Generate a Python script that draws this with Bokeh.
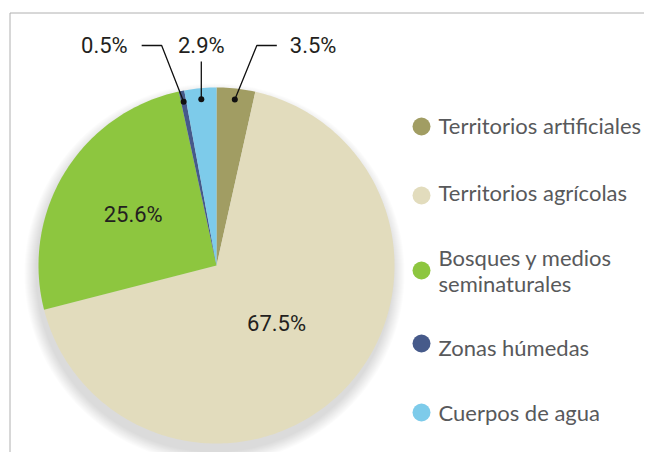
import numpy as np
from bokeh.plotting import figure
from bokeh.models import Range1d
from bokeh.embed import file_html
from bokeh.resources import INLINE
from bokeh.core.properties import value

# ---- data ----
categories = ["Territorios artificiales", "Territorios agrícolas",
              "Bosques y medios\nseminaturales", "Zonas húmedas", "Cuerpos de agua"]
shares = [3.5, 67.5, 25.6, 0.5, 2.9]
share_labels = ["3.5%", "67.5%", "25.6%", "0.5%", "2.9%"]
colors = ["#a19d63", "#e2dcbd", "#8dc63f", "#465a8a", "#7dcbea"]

# ---- layout / style ----
W, H = 644, 452
OFF = 0
CX, CY, R = 216, 265, 178
LABEL_FONT = "Roboto"
LEGEND_FONT = "Lato"

p = figure(width=W, height=H, x_range=Range1d(OFF, OFF + W), y_range=Range1d(OFF + H, OFF),
           output_backend="svg", toolbar_location=None, min_border=0,
           x_axis_location=None, y_axis_location=None)
p.grid.visible = False
p.outline_line_color = None
p.background_fill_color = "white"
p.border_fill_color = "white"

# frame lines (box continues past the page)
p.line([9.5, 9.5, 800], [700, 12.5, 12.5], line_color="#b0b0b0", line_width=1)

# soft shadow
for k in range(12):
    p.circle([CX - 2], [CY + 8], radius=R + 12 - k, fill_color="#909090",
             fill_alpha=0.022, line_color=None)

# wedges computed from the shares
total = float(sum(shares))
fr = np.array(shares) / total
ends = np.cumsum(fr) * 2 * np.pi
starts = ends - fr * 2 * np.pi
xs, ys = [], []
for a0, a1 in zip(starts, ends):
    n = max(4, int((a1 - a0) / (2 * np.pi) * 360))
    t = np.linspace(a0, a1, n + 1)
    xs.append([CX] + list(CX + R * np.sin(t)))
    ys.append([CY] + list(CY - R * np.cos(t)))
p.patches(xs, ys, fill_color=colors, line_color=None)

mids = (starts + ends) / 2

# inner labels for large slices
in_r = {1: 0.47, 2: 0.55}
ix, iy, it = [], [], []
for i in range(len(shares)):
    if fr[i] >= 0.10:
        rr = in_r.get(i, 0.5) * R
        ix.append(CX + rr * np.sin(mids[i]))
        iy.append(CY - rr * np.cos(mids[i]))
        it.append(share_labels[i])
p.text(ix, iy, text=it, text_font=value(LABEL_FONT), text_font_size="22px",
       text_color="#231f20", text_align="center", text_baseline="middle")

# outer labels with leader lines for small slices
LABEL_Y = 45
DOT_R = 167
elbow_dx = {0: 22, 3: -22, 4: 0}
for i in range(len(shares)):
    if fr[i] < 0.10:
        dx_ = CX + DOT_R * np.sin(mids[i])
        dy_ = CY - DOT_R * np.cos(mids[i])
        p.scatter([dx_], [dy_], size=6, fill_color="#111111", line_color=None)
        e = elbow_dx[i]
        if e == 0:
            p.line([dx_, dx_], [dy_, LABEL_Y + 16], line_color="#111111", line_width=1.3)
            p.text([dx_], [LABEL_Y], text=[share_labels[i]], text_font=value(LABEL_FONT),
                   text_font_size="22px", text_color="#231f20",
                   text_align="center", text_baseline="middle")
        else:
            ex = dx_ + e
            hx = ex + (20 if e > 0 else -20)
            p.line([dx_, ex, hx], [dy_, LABEL_Y, LABEL_Y], line_color="#111111", line_width=1.3)
            tx = hx + (13 if e > 0 else -14)
            p.text([tx], [LABEL_Y], text=[share_labels[i]], text_font=value(LABEL_FONT),
                   text_font_size="22px", text_color="#231f20",
                   text_align="left" if e > 0 else "right", text_baseline="middle")

# legend
LEG_X = 421
leg_y = [126, 195, 270, 343, 412]
txt_y = [125, 192, 270, 347, 412]
p.scatter([LEG_X] * 5, leg_y, size=18, fill_color=colors, line_color=None)
p.text([LEG_X + 17] * 5, txt_y, text=categories, text_font=value(LEGEND_FONT),
       text_font_size="22px", text_color="#58595b", text_align="left",
       text_baseline="middle", text_line_height=0.95)

open("out.html", "w").write(file_html(p, INLINE))
